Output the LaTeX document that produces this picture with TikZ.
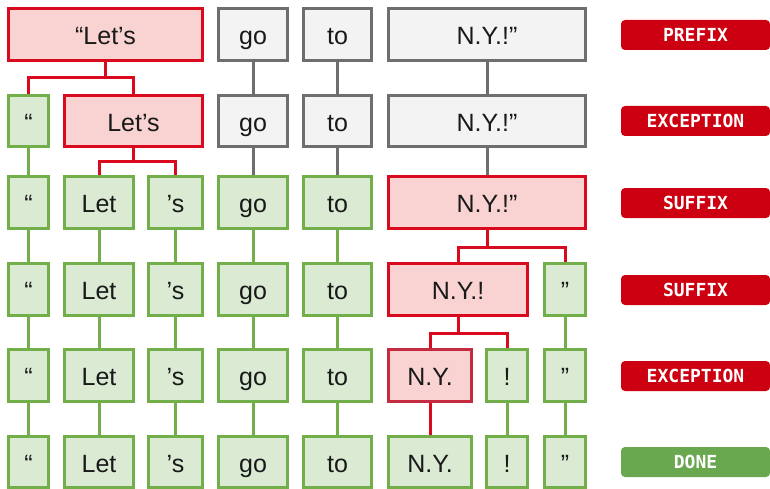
\documentclass[tikz,border=0pt]{standalone}
\usepackage{fontspec}
\setmainfont{Liberation Sans}
\newfontfamily\badgefont{DejaVu Sans Mono}
\usetikzlibrary{backgrounds}
\definecolor{rline}{HTML}{DA0A1E}
\definecolor{rline2}{HTML}{C42A40}
\definecolor{rfill}{HTML}{F8D3D2}
\definecolor{gline}{HTML}{72AE4A}
\definecolor{gfill}{HTML}{DAEAD3}
\definecolor{yline}{HTML}{6E6E6E}
\definecolor{yfill}{HTML}{F3F3F3}
\definecolor{bred}{HTML}{CC0010}
\definecolor{bgreen}{HTML}{6AA84F}
\newcommand\tokbox[7]{%
  \pgfmathsetmacro\tbw{#5-#3-2.8}\pgfmathsetmacro\tbh{#6-#4-2.8}%
  \node[#1, minimum width=\tbw pt, minimum height=\tbh pt] (#2) at ({(#3+#5)/2},{(#4+#6)/2}) {#7};}
\newcommand\badge[4]{%
  \node[badgebox, fill=#1] (#2) at (695.5,#3) {#4};}
\tikzset{
  tokb/.style={draw, line width=2.8pt, inner sep=0pt, text height=20.5pt, text depth=0pt,
    font=\fontsize{25}{29}\selectfont, text=black!90},
  gbox/.style={tokb, draw=gline, fill=gfill},
  rbox/.style={tokb, draw=rline, fill=rfill},
  rboxb/.style={tokb, draw=rline2, fill=rfill},
  ybox/.style={tokb, draw=yline, fill=yfill},
  badgebox/.style={rounded corners=4pt, minimum width=149pt, minimum height=30pt, inner sep=0pt,
    text=white, font=\badgefont\bfseries\fontsize{18}{20}\selectfont},
  conn/.style={line width=3pt},
  rc/.style={conn, rline}, gc/.style={conn, gline}, yc/.style={conn, yline}
}
\begin{document}
\begin{tikzpicture}[x=1pt, y=-1pt]
\useasboundingbox (0,0) rectangle (770,489);
% row 1
\tokbox{rbox}{a1}{7}{7}{204}{62}{“Let’s}
\tokbox{ybox}{go1}{217}{7}{289}{62}{go}
\tokbox{ybox}{to1}{302}{7}{373}{62}{to}
\tokbox{ybox}{ny1}{387}{7}{587}{62}{N.Y.!”}
% row 2
\tokbox{gbox}{q2}{7}{94}{50}{148}{“}
\tokbox{rbox}{ls2}{63}{94}{204}{148}{Let’s}
\tokbox{ybox}{go2}{217}{94}{289}{148}{go}
\tokbox{ybox}{to2}{302}{94}{373}{148}{to}
\tokbox{ybox}{ny2}{387}{94}{587}{148}{N.Y.!”}
% row 3
\tokbox{gbox}{q3}{7}{175}{50}{230}{“}
\tokbox{gbox}{let3}{63}{175}{135}{230}{Let}
\tokbox{gbox}{s3}{147}{175}{204}{230}{’s}
\tokbox{gbox}{go3}{217}{175}{289}{230}{go}
\tokbox{gbox}{to3}{302}{175}{373}{230}{to}
\tokbox{rbox}{ny3}{387}{175}{587}{230}{N.Y.!”}
% row 4
\tokbox{gbox}{q4}{7}{262}{50}{317}{“}
\tokbox{gbox}{let4}{63}{262}{135}{317}{Let}
\tokbox{gbox}{s4}{147}{262}{204}{317}{’s}
\tokbox{gbox}{go4}{217}{262}{289}{317}{go}
\tokbox{gbox}{to4}{302}{262}{373}{317}{to}
\tokbox{rbox}{ny4}{387}{262}{529}{317}{N.Y.!}
\tokbox{gbox}{rq4}{543}{262}{587}{317}{”}
% row 5
\tokbox{gbox}{q5}{7}{348}{50}{403}{“}
\tokbox{gbox}{let5}{63}{348}{135}{403}{Let}
\tokbox{gbox}{s5}{147}{348}{204}{403}{’s}
\tokbox{gbox}{go5}{217}{348}{289}{403}{go}
\tokbox{gbox}{to5}{302}{348}{373}{403}{to}
\tokbox{rboxb}{ny5}{387}{348}{473}{403}{N.Y.}
\tokbox{gbox}{ex5}{485}{348}{529}{403}{!}
\tokbox{gbox}{rq5}{543}{348}{587}{403}{”}
% row 6
\tokbox{gbox}{q6}{7}{435}{50}{489}{“}
\tokbox{gbox}{let6}{63}{435}{135}{489}{Let}
\tokbox{gbox}{s6}{147}{435}{204}{489}{’s}
\tokbox{gbox}{go6}{217}{435}{289}{489}{go}
\tokbox{gbox}{to6}{302}{435}{373}{489}{to}
\tokbox{gbox}{ny6}{387}{435}{473}{489}{N.Y.}
\tokbox{gbox}{ex6}{485}{435}{529}{489}{!}
\tokbox{gbox}{rq6}{543}{435}{587}{489}{”}
% badges
\badge{bred}{b1}{35}{PREFIX}
\badge{bred}{b2}{121}{EXCEPTION}
\badge{bred}{b3}{203}{SUFFIX}
\badge{bred}{b4}{290}{SUFFIX}
\badge{bred}{b5}{376}{EXCEPTION}
\badge{bgreen}{b6}{462}{DONE}
\begin{scope}[on background layer]
% r1 -> r2
\draw[rc] (a1.south) -- ++(0,16) -| (q2.north);
\draw[rc] (a1.south) -- ++(0,16) -| (ls2.north);
\draw[yc] (go1) -- (go2); \draw[yc] (to1) -- (to2); \draw[yc] (ny1) -- (ny2);
% r2 -> r3
\draw[gc] (q2) -- (q3);
\draw[rc] (ls2.south) -- ++(0,14) -| (let3.north);
\draw[rc] (ls2.south) -- ++(0,14) -| (s3.north);
\draw[yc] (go2) -- (go3); \draw[yc] (to2) -- (to3); \draw[yc] (ny2) -- (ny3);
% r3 -> r4
\draw[gc] (q3) -- (q4); \draw[gc] (let3) -- (let4); \draw[gc] (s3) -- (s4);
\draw[gc] (go3) -- (go4); \draw[gc] (to3) -- (to4);
\draw[rc] (ny3.south) -- ++(0,17) -| (ny4.north);
\draw[rc] (ny3.south) -- ++(0,17) -| (rq4.north);
% r4 -> r5
\draw[gc] (q4) -- (q5); \draw[gc] (let4) -- (let5); \draw[gc] (s4) -- (s5);
\draw[gc] (go4) -- (go5); \draw[gc] (to4) -- (to5);
\draw[rc] (ny4.south) -- ++(0,16) -| (ny5.north);
\draw[rc] (ny4.south) -- ++(0,16) -| (ex5.north);
\draw[gc] (rq4) -- (rq5);
% r5 -> r6
\draw[gc] (q5) -- (q6); \draw[gc] (let5) -- (let6); \draw[gc] (s5) -- (s6);
\draw[gc] (go5) -- (go6); \draw[gc] (to5) -- (to6);
\draw[rc] (ny5) -- (ny6); \draw[gc] (ex5) -- (ex6); \draw[gc] (rq5) -- (rq6);
\end{scope}
\end{tikzpicture}
\end{document}
